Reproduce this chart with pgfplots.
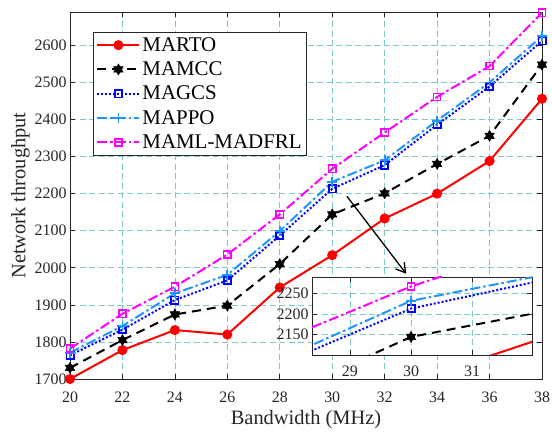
\documentclass[border=0pt]{standalone}
\usepackage{fontspec}
\setmainfont{Liberation Serif}
\usepackage{pgfplots}
\pgfplotsset{compat=1.18}
\usetikzlibrary{arrows.meta}
\definecolor{gridc}{RGB}{128,200,200}
\definecolor{axc}{RGB}{38,38,38}
\definecolor{cmapo}{RGB}{30,150,255}
\definecolor{cmaml}{RGB}{255,0,255}
\pgfdeclareplotmark{hexagram}{%
  \pgfpathmoveto{\pgfqpointpolar{90}{\pgfplotmarksize}}%
  \pgfpathlineto{\pgfqpointpolar{210}{\pgfplotmarksize}}%
  \pgfpathlineto{\pgfqpointpolar{330}{\pgfplotmarksize}}%
  \pgfpathclose
  \pgfpathmoveto{\pgfqpointpolar{270}{\pgfplotmarksize}}%
  \pgfpathlineto{\pgfqpointpolar{30}{\pgfplotmarksize}}%
  \pgfpathlineto{\pgfqpointpolar{150}{\pgfplotmarksize}}%
  \pgfpathclose
  \pgfusepathqfillstroke}
\pgfplotstableread{
x   marto mamcc magcs mappo maml
20  1700  1730  1764  1771  1782
22  1778  1805  1833  1843  1876
24  1832  1874  1913  1931  1949
26  1820  1898  1966  1981  2036
28  1947  2010  2087  2099  2144
30  2034  2144  2213  2232  2267
32  2133  2201  2277  2290  2365
34  2200  2280  2386  2397  2461
36  2288  2356  2489  2500  2544
38  2456  2548  2612  2625  2688
}\data
\pgfplotsset{
  mystyle/.style={
    scale only axis,
    axis line style={axc, line width=0.6bp},
    tick style={axc, line width=0.6bp},
    tick align=inside,
    major tick length=5bp,
    grid=major,
    major grid style={gridc, dash pattern=on 6bp off 3.5bp, line width=0.6bp},
    /pgf/number format/assume math mode=true,
    /pgf/number format/1000 sep={},
    ticklabel style={font=\fontsize{16}{16}\selectfont, text=axc},
  },
  sMARTO/.style={red, line width=2bp, mark=*, mark size=4bp, mark options={solid, fill=red}},
  sMAMCC/.style={black, line width=2bp, dash pattern=on 9bp off 6bp, mark=hexagram, mark size=5.5bp, mark options={solid, fill=black, line width=0.5bp}},
  sMAGCS/.style={blue, line width=2bp, dash pattern=on 2bp off 2bp, mark=square, mark size=3.6bp, mark options={solid, line width=1.8bp}},
  sMAPPO/.style={cmapo, line width=2bp, dash pattern=on 10bp off 3bp on 2.5bp off 3bp, mark=+, mark size=5bp, mark options={solid, line width=1.8bp}},
  sMAML/.style={cmaml, line width=2bp, dash pattern=on 10bp off 3bp on 2.5bp off 3bp, mark=square, mark size=3.6bp, mark options={solid, line width=1.5bp}},
}
\begin{document}
\begin{tikzpicture}
\begin{axis}[mystyle,
  at={(70bp,54bp)}, anchor=south west,
  width=472bp, height=367bp,
  xmin=20, xmax=38, ymin=1700, ymax=2690,
  xtick={20,22,...,38}, ytick={1700,1800,...,2600},
  xticklabel style={yshift=-9bp},
  xlabel={Bandwidth (MHz)}, ylabel={Network throughput},
  label style={font=\fontsize{20.5}{20.5}\selectfont, text=axc},
  xlabel style={yshift=-1bp},
  ylabel style={yshift=-2bp},
  legend cell align=left,
  legend style={at={(0.049,0.945)}, anchor=north west, draw=axc, line width=0.6bp,
    font=\fontsize{21}{21}\selectfont, row sep=5bp, inner sep=3bp, text=black},
  legend image code/.code={\draw[mark repeat=2, mark phase=2, #1] plot coordinates {(0bp,0bp) (21bp,0bp) (42bp,0bp)};},
]
\addplot[sMARTO] table[x=x, y=marto] {\data};
\addlegendentry{MARTO}
\addplot[sMAMCC] table[x=x, y=mamcc] {\data};
\addlegendentry{MAMCC}
\addplot[sMAGCS] table[x=x, y=magcs] {\data};
\addlegendentry{MAGCS}
\addplot[sMAPPO] table[x=x, y=mappo] {\data};
\addlegendentry{MAPPO}
\addplot[sMAML] table[x=x, y=maml] {\data};
\addlegendentry{MAML-MADFRL}
\draw[black, line width=1.3bp, -{Straight Barb[length=9bp, width=11bp, line width=1.3bp]}] (axis cs:30.56,2193) -- (axis cs:32.82,1984);
\end{axis}
\begin{axis}[mystyle,
  at={(312bp,78bp)}, anchor=south west,
  width=220bp, height=78bp,
  xmin=28.38, xmax=31.98, ymin=2100, ymax=2290,
  xtick={29,30,31}, ytick={2150,2200,2250},
  xticklabel style={yshift=-7bp},
  axis background/.style={fill=white},
  clip=true,
]
\addplot[sMARTO] table[x=x, y=marto] {\data};
\addplot[sMAMCC] table[x=x, y=mamcc] {\data};
\addplot[sMAGCS] table[x=x, y=magcs] {\data};
\addplot[sMAPPO] table[x=x, y=mappo] {\data};
\addplot[sMAML] table[x=x, y=maml] {\data};
\end{axis}
\pgfresetboundingbox
\path (0,0) rectangle (552bp,433bp);
\end{tikzpicture}
\end{document}
